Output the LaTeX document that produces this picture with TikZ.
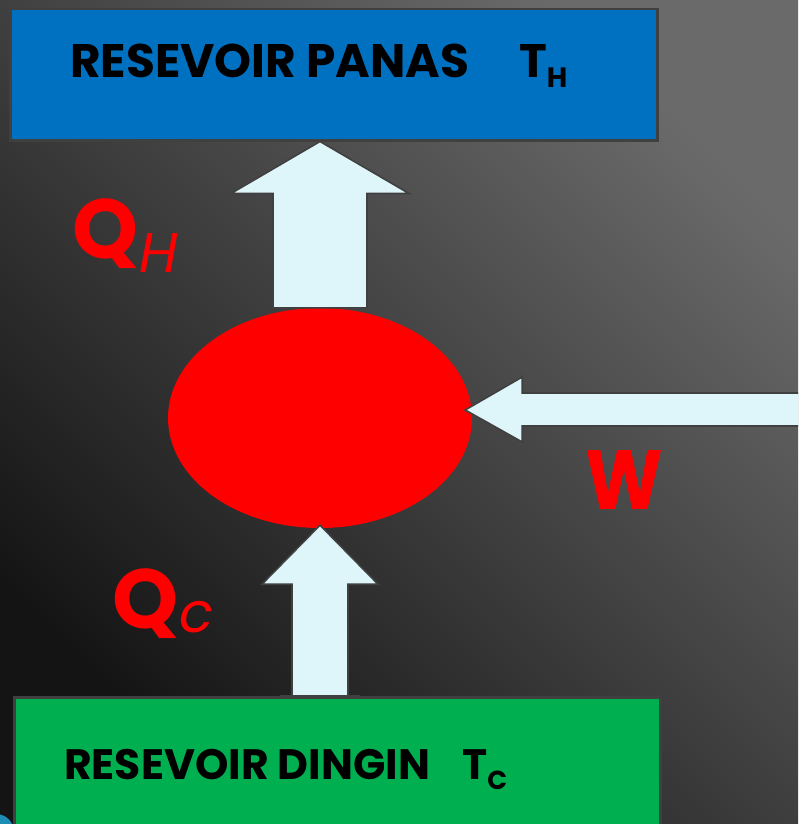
\documentclass[tikz,border=0pt]{standalone}
\usepackage{fontspec}
\setmainfont{Poppins}
\usetikzlibrary{shapes.geometric,calc}

\definecolor{hotblue}{HTML}{0070C0}
\definecolor{coldgreen}{HTML}{00B050}
\definecolor{enginered}{HTML}{FF0000}
\definecolor{flowfill}{HTML}{DEF5FA}
\definecolor{edgegray}{HTML}{404040}
\definecolor{bglight}{HTML}{6A6A6A}
\definecolor{bgdark}{HTML}{141414}
\definecolor{cornerteal}{HTML}{1C8DB4}

\tikzset{
  reservoir/.style={draw=edgegray, line width=2.5pt, inner sep=0pt, anchor=north west},
  boxtext/.style={anchor=base west, inner sep=0pt, font=\bfseries, text=black},
  flow/.style={fill=flowfill, draw=edgegray, line width=1.6pt, line join=miter},
  qlabel/.style={anchor=base west, inner sep=0pt, text=enginered,
                 font=\bfseries\fontsize{84}{84}\selectfont},
}

\begin{document}
\begin{tikzpicture}[x=1pt, y=-1pt]
  \useasboundingbox (0,0) rectangle (798,824);
  \clip (0,0) rectangle (798,824);

  % dark diagonal backdrop
  \shade[shading=axis, top color=bglight, bottom color=bgdark, shading angle=-45]
    (0,0) rectangle (798,824);
  \fill[cornerteal] (-4,832) circle (18);

  % hot reservoir
  \node[reservoir, fill=hotblue, minimum width=647pt, minimum height=131pt]
    (hot) at (9,8) {};
  \node[boxtext, font=\bfseries\fontsize{47}{47}\selectfont] (hotname) at (70,78)
    {RESEVOIR PANAS};
  \node[boxtext, font=\bfseries\fontsize{47}{47}\selectfont] (hottemp) at (519,78)
    {T\raisebox{-10pt}{\fontsize{28}{28}\selectfont H}};

  % engine
  \node[ellipse, fill=enginered, inner sep=0pt, minimum width=304pt, minimum height=220pt]
    (engine) at (320,418) {};

  % heat rejected to the hot reservoir
  \coordinate (htip) at (engine.north |- hot.south);
  \draw[flow] ($(engine.north)+(-47,0)$) -- ($(htip)+(-47,52)$)
    -- ($(htip)+(-89,52)$) -- (htip) -- ($(htip)+(89,52)$)
    -- ($(htip)+(47,52)$) -- ($(engine.north)+(47,0)$) -- cycle;

  % work input
  \coordinate (wsource) at (810,410);
  \coordinate (wtip) at ($(engine.east)+(-7,-8)$);
  \draw[flow] (wsource) ++(0,-17) -- ($(wtip)+(57,-17)$) -- ($(wtip)+(57,-33)$)
    -- (wtip) -- ($(wtip)+(57,32)$) -- ($(wtip)+(57,16)$) -- ($(wsource)+(0,16)$);

  % cold reservoir
  \node[reservoir, fill=coldgreen, minimum width=646pt, minimum height=150pt]
    (cold) at (13,696) {};

  % heat drawn from the cold reservoir
  \coordinate (ctip) at ($(engine.south)+(0,-3)$);
  \coordinate (cbase) at (engine.south |- cold.north);
  \draw[flow] ($(cbase)+(-28,0)$) -- ($(ctip)+(-28,59)$) -- ($(ctip)+(-58,59)$)
    -- (ctip) -- ($(ctip)+(58,59)$) -- ($(ctip)+(28,59)$) -- ($(cbase)+(28,0)$);
  \draw[edgegray, line width=2.5pt] ($(cbase)+(-40,0)$) -- ($(cbase)+(40,0)$);

  \node[boxtext, font=\bfseries\fontsize{42.5}{42.5}\selectfont] (coldname) at (64,779)
    {RESEVOIR DINGIN};
  \node[boxtext, font=\bfseries\fontsize{42.5}{42.5}\selectfont] (coldtemp) at (462,779)
    {T\raisebox{-10pt}{\fontsize{26}{26}\selectfont C}};

  % flow labels
  \node[qlabel] (qh) at (72,258)
    {Q\kern1pt\raisebox{-14pt}{\fontsize{56}{56}\selectfont\mdseries\itshape H}};
  \node[qlabel] (qc) at (112,628)
    {Q\kern1pt\raisebox{-4pt}{\fontsize{56}{56}\selectfont\mdseries\itshape c}};
  \node[qlabel, xscale=0.88, transform shape] (w) at (585,509) {W};
\end{tikzpicture}
\end{document}
